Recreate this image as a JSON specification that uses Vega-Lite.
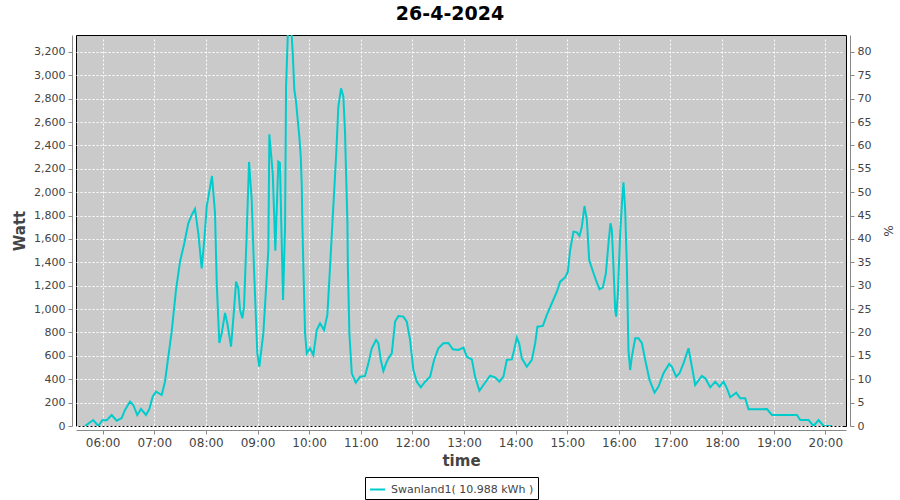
{
  "$schema": "https://vega.github.io/schema/vega-lite/v6.json",
  "width": 770,
  "height": 391,
  "autosize": {"type": "none"},
  "padding": {"left": 76, "top": 35, "right": 54, "bottom": 74},
  "background": "white",
  "title": {"text": "26-4-2024", "fontSize": 19, "fontWeight": "bold", "color": "black", "font": "DejaVu Sans", "anchor": "middle", "offset": 11, "dx": -11},
  "config": {
    "font": "DejaVu Sans",
    "view": {"fill": "#cacaca", "stroke": "black", "strokeWidth": 1},
    "axis": {
      "gridColor": "white", "gridDash": [2, 2], "gridWidth": 1, "gridOpacity": 1,
      "domainColor": "#888888", "tickColor": "#888888", "tickSize": 4,
      "labelFontSize": 11, "labelColor": "#444444",
      "titleFontSize": 15, "titleColor": "#444444", "titleFontWeight": "bold",
      "offset": 4, "labelPadding": 3
    },
    "legend": {
      "orient": "none", "legendX": 289, "legendY": 442,
      "symbolType": "stroke", "symbolSize": 225, "symbolStrokeWidth": 2,
      "labelFontSize": 11, "labelColor": "#444444",
      "strokeColor": "black", "fillColor": "white", "padding": 4, "labelOffset": 5
    }
  },
  "data": {"values": [
    {"t": "2024-04-26T05:39:25", "w": 0},
    {"t": "2024-04-26T05:49:00", "w": 51},
    {"t": "2024-04-26T05:55:00", "w": 0},
    {"t": "2024-04-26T05:59:30", "w": 50},
    {"t": "2024-04-26T06:04:40", "w": 50},
    {"t": "2024-04-26T06:10:28", "w": 94},
    {"t": "2024-04-26T06:16:17", "w": 45},
    {"t": "2024-04-26T06:22:06", "w": 68},
    {"t": "2024-04-26T06:25:56", "w": 137},
    {"t": "2024-04-26T06:31:45", "w": 208},
    {"t": "2024-04-26T06:35:35", "w": 180},
    {"t": "2024-04-26T06:40:14", "w": 94},
    {"t": "2024-04-26T06:44:32", "w": 145},
    {"t": "2024-04-26T06:50:21", "w": 94},
    {"t": "2024-04-26T06:54:11", "w": 145},
    {"t": "2024-04-26T06:58:08", "w": 251},
    {"t": "2024-04-26T07:02:00", "w": 294},
    {"t": "2024-04-26T07:08:36", "w": 265},
    {"t": "2024-04-26T07:12:26", "w": 379},
    {"t": "2024-04-26T07:16:17", "w": 593},
    {"t": "2024-04-26T07:20:14", "w": 807},
    {"t": "2024-04-26T07:25:14", "w": 1164},
    {"t": "2024-04-26T07:29:53", "w": 1406},
    {"t": "2024-04-26T07:34:53", "w": 1563},
    {"t": "2024-04-26T07:39:32", "w": 1734},
    {"t": "2024-04-26T07:43:29", "w": 1805},
    {"t": "2024-04-26T07:47:19", "w": 1857},
    {"t": "2024-04-26T07:51:09", "w": 1649},
    {"t": "2024-04-26T07:55:06", "w": 1349},
    {"t": "2024-04-26T07:58:08", "w": 1592},
    {"t": "2024-04-26T08:00:55", "w": 1877},
    {"t": "2024-04-26T08:07:05", "w": 2139},
    {"t": "2024-04-26T08:10:35", "w": 1822},
    {"t": "2024-04-26T08:12:33", "w": 1224},
    {"t": "2024-04-26T08:15:35", "w": 710},
    {"t": "2024-04-26T08:18:22", "w": 793},
    {"t": "2024-04-26T08:22:12", "w": 967},
    {"t": "2024-04-26T08:24:53", "w": 879},
    {"t": "2024-04-26T08:29:11", "w": 679},
    {"t": "2024-04-26T08:32:41", "w": 993},
    {"t": "2024-04-26T08:35:00", "w": 1235},
    {"t": "2024-04-26T08:37:41", "w": 1178},
    {"t": "2024-04-26T08:39:39", "w": 993},
    {"t": "2024-04-26T08:42:20", "w": 921},
    {"t": "2024-04-26T08:44:18", "w": 1021},
    {"t": "2024-04-26T08:47:26", "w": 1651},
    {"t": "2024-04-26T08:50:07", "w": 2259},
    {"t": "2024-04-26T08:53:15", "w": 1934},
    {"t": "2024-04-26T08:55:56", "w": 1335},
    {"t": "2024-04-26T08:59:46", "w": 622},
    {"t": "2024-04-26T09:02:06", "w": 507},
    {"t": "2024-04-26T09:06:45", "w": 793},
    {"t": "2024-04-26T09:12:34", "w": 1506},
    {"t": "2024-04-26T09:13:44", "w": 2496},
    {"t": "2024-04-26T09:17:41", "w": 2162},
    {"t": "2024-04-26T09:19:12", "w": 1834},
    {"t": "2024-04-26T09:20:42", "w": 1500},
    {"t": "2024-04-26T09:24:11", "w": 2262},
    {"t": "2024-04-26T09:26:00", "w": 2250},
    {"t": "2024-04-26T09:26:50", "w": 1990},
    {"t": "2024-04-26T09:29:39", "w": 1078},
    {"t": "2024-04-26T09:32:00", "w": 1705},
    {"t": "2024-04-26T09:33:09", "w": 2903},
    {"t": "2024-04-26T09:35:07", "w": 3331},
    {"t": "2024-04-26T09:36:30", "w": 3480},
    {"t": "2024-04-26T09:38:30", "w": 3480},
    {"t": "2024-04-26T09:39:46", "w": 3331},
    {"t": "2024-04-26T09:40:56", "w": 3190},
    {"t": "2024-04-26T09:42:47", "w": 2875},
    {"t": "2024-04-26T09:44:46", "w": 2775},
    {"t": "2024-04-26T09:46:44", "w": 2618},
    {"t": "2024-04-26T09:48:36", "w": 2475},
    {"t": "2024-04-26T09:50:14", "w": 2304},
    {"t": "2024-04-26T09:51:24", "w": 2062},
    {"t": "2024-04-26T09:52:06", "w": 1734},
    {"t": "2024-04-26T09:53:16", "w": 1363},
    {"t": "2024-04-26T09:55:14", "w": 793},
    {"t": "2024-04-26T09:57:12", "w": 622},
    {"t": "2024-04-26T10:01:02", "w": 665},
    {"t": "2024-04-26T10:04:52", "w": 607},
    {"t": "2024-04-26T10:08:49", "w": 821},
    {"t": "2024-04-26T10:12:40", "w": 879},
    {"t": "2024-04-26T10:17:19", "w": 821},
    {"t": "2024-04-26T10:21:09", "w": 950},
    {"t": "2024-04-26T10:24:18", "w": 1363},
    {"t": "2024-04-26T10:27:26", "w": 1791},
    {"t": "2024-04-26T10:31:17", "w": 2304},
    {"t": "2024-04-26T10:33:57", "w": 2732},
    {"t": "2024-04-26T10:37:05", "w": 2889},
    {"t": "2024-04-26T10:39:46", "w": 2818},
    {"t": "2024-04-26T10:41:44", "w": 2507},
    {"t": "2024-04-26T10:42:54", "w": 2162},
    {"t": "2024-04-26T10:44:25", "w": 1763},
    {"t": "2024-04-26T10:45:00", "w": 1363},
    {"t": "2024-04-26T10:46:45", "w": 793},
    {"t": "2024-04-26T10:49:33", "w": 451},
    {"t": "2024-04-26T10:54:11", "w": 371},
    {"t": "2024-04-26T10:59:11", "w": 422},
    {"t": "2024-04-26T11:05:00", "w": 428},
    {"t": "2024-04-26T11:08:50", "w": 536},
    {"t": "2024-04-26T11:12:47", "w": 665},
    {"t": "2024-04-26T11:17:46", "w": 736},
    {"t": "2024-04-26T11:20:27", "w": 708},
    {"t": "2024-04-26T11:23:15", "w": 565},
    {"t": "2024-04-26T11:26:17", "w": 471},
    {"t": "2024-04-26T11:29:26", "w": 536},
    {"t": "2024-04-26T11:32:06", "w": 579},
    {"t": "2024-04-26T11:36:03", "w": 622},
    {"t": "2024-04-26T11:39:53", "w": 893},
    {"t": "2024-04-26T11:43:43", "w": 941},
    {"t": "2024-04-26T11:49:32", "w": 936},
    {"t": "2024-04-26T11:53:29", "w": 893},
    {"t": "2024-04-26T11:57:19", "w": 736},
    {"t": "2024-04-26T12:01:09", "w": 479},
    {"t": "2024-04-26T12:05:06", "w": 379},
    {"t": "2024-04-26T12:09:45", "w": 331},
    {"t": "2024-04-26T12:14:45", "w": 379},
    {"t": "2024-04-26T12:20:34", "w": 422},
    {"t": "2024-04-26T12:25:13", "w": 565},
    {"t": "2024-04-26T12:30:13", "w": 665},
    {"t": "2024-04-26T12:36:02", "w": 708},
    {"t": "2024-04-26T12:41:51", "w": 710},
    {"t": "2024-04-26T12:46:58", "w": 656},
    {"t": "2024-04-26T12:53:29", "w": 650},
    {"t": "2024-04-26T12:59:18", "w": 670},
    {"t": "2024-04-26T13:03:15", "w": 593},
    {"t": "2024-04-26T13:09:04", "w": 570},
    {"t": "2024-04-26T13:12:54", "w": 422},
    {"t": "2024-04-26T13:17:54", "w": 302},
    {"t": "2024-04-26T13:22:33", "w": 351},
    {"t": "2024-04-26T13:30:20", "w": 430},
    {"t": "2024-04-26T13:36:09", "w": 416},
    {"t": "2024-04-26T13:41:09", "w": 379},
    {"t": "2024-04-26T13:45:48", "w": 422},
    {"t": "2024-04-26T13:49:45", "w": 565},
    {"t": "2024-04-26T13:55:34", "w": 570},
    {"t": "2024-04-26T13:58:15", "w": 650},
    {"t": "2024-04-26T14:01:24", "w": 756},
    {"t": "2024-04-26T14:04:05", "w": 708},
    {"t": "2024-04-26T14:07:13", "w": 579},
    {"t": "2024-04-26T14:13:02", "w": 507},
    {"t": "2024-04-26T14:18:51", "w": 565},
    {"t": "2024-04-26T14:22:41", "w": 708},
    {"t": "2024-04-26T14:25:21", "w": 850},
    {"t": "2024-04-26T14:31:38", "w": 856},
    {"t": "2024-04-26T14:36:17", "w": 950},
    {"t": "2024-04-26T14:42:06", "w": 1050},
    {"t": "2024-04-26T14:47:55", "w": 1149},
    {"t": "2024-04-26T14:51:45", "w": 1235},
    {"t": "2024-04-26T14:57:34", "w": 1272},
    {"t": "2024-04-26T15:00:42", "w": 1320},
    {"t": "2024-04-26T15:03:22", "w": 1506},
    {"t": "2024-04-26T15:07:13", "w": 1663},
    {"t": "2024-04-26T15:11:10", "w": 1657},
    {"t": "2024-04-26T15:14:12", "w": 1626},
    {"t": "2024-04-26T15:16:59", "w": 1705},
    {"t": "2024-04-26T15:20:01", "w": 1882},
    {"t": "2024-04-26T15:22:48", "w": 1763},
    {"t": "2024-04-26T15:25:29", "w": 1420},
    {"t": "2024-04-26T15:29:19", "w": 1335},
    {"t": "2024-04-26T15:33:17", "w": 1249},
    {"t": "2024-04-26T15:37:28", "w": 1170},
    {"t": "2024-04-26T15:41:24", "w": 1187},
    {"t": "2024-04-26T15:44:54", "w": 1306},
    {"t": "2024-04-26T15:47:55", "w": 1563},
    {"t": "2024-04-26T15:50:14", "w": 1734},
    {"t": "2024-04-26T15:51:52", "w": 1677},
    {"t": "2024-04-26T15:53:44", "w": 1363},
    {"t": "2024-04-26T15:55:43", "w": 993},
    {"t": "2024-04-26T15:56:53", "w": 936},
    {"t": "2024-04-26T15:58:51", "w": 1135},
    {"t": "2024-04-26T16:01:31", "w": 1649},
    {"t": "2024-04-26T16:03:50", "w": 1934},
    {"t": "2024-04-26T16:05:21", "w": 2085},
    {"t": "2024-04-26T16:07:19", "w": 1848},
    {"t": "2024-04-26T16:09:17", "w": 1363},
    {"t": "2024-04-26T16:11:08", "w": 650},
    {"t": "2024-04-26T16:13:07", "w": 479},
    {"t": "2024-04-26T16:15:05", "w": 593},
    {"t": "2024-04-26T16:19:00", "w": 750},
    {"t": "2024-04-26T16:22:50", "w": 750},
    {"t": "2024-04-26T16:26:47", "w": 708},
    {"t": "2024-04-26T16:30:38", "w": 565},
    {"t": "2024-04-26T16:35:38", "w": 394},
    {"t": "2024-04-26T16:41:26", "w": 285},
    {"t": "2024-04-26T16:46:04", "w": 337},
    {"t": "2024-04-26T16:51:53", "w": 451},
    {"t": "2024-04-26T16:58:30", "w": 531},
    {"t": "2024-04-26T17:01:38", "w": 507},
    {"t": "2024-04-26T17:06:38", "w": 422},
    {"t": "2024-04-26T17:10:28", "w": 451},
    {"t": "2024-04-26T17:15:07", "w": 536},
    {"t": "2024-04-26T17:20:56", "w": 665},
    {"t": "2024-04-26T17:24:53", "w": 507},
    {"t": "2024-04-26T17:28:43", "w": 351},
    {"t": "2024-04-26T17:36:30", "w": 428},
    {"t": "2024-04-26T17:40:22", "w": 408},
    {"t": "2024-04-26T17:46:11", "w": 331},
    {"t": "2024-04-26T17:52:00", "w": 379},
    {"t": "2024-04-26T17:57:00", "w": 337},
    {"t": "2024-04-26T18:01:38", "w": 379},
    {"t": "2024-04-26T18:05:35", "w": 322},
    {"t": "2024-04-26T18:09:25", "w": 246},
    {"t": "2024-04-26T18:16:24", "w": 285},
    {"t": "2024-04-26T18:21:03", "w": 237},
    {"t": "2024-04-26T18:26:52", "w": 237},
    {"t": "2024-04-26T18:30:42", "w": 143},
    {"t": "2024-04-26T18:36:31", "w": 143},
    {"t": "2024-04-26T18:44:19", "w": 143},
    {"t": "2024-04-26T18:52:06", "w": 145},
    {"t": "2024-04-26T18:57:55", "w": 94},
    {"t": "2024-04-26T19:03:44", "w": 94},
    {"t": "2024-04-26T19:27:00", "w": 94},
    {"t": "2024-04-26T19:30:50", "w": 51},
    {"t": "2024-04-26T19:40:29", "w": 51},
    {"t": "2024-04-26T19:46:17", "w": 0},
    {"t": "2024-04-26T19:52:06", "w": 51},
    {"t": "2024-04-26T19:57:55", "w": 0},
    {"t": "2024-04-26T20:07:40", "w": 0}
  ]},
  "encoding": {
    "x": {
      "field": "t", "type": "temporal", "title": "time",
      "scale": {"domain": [
        {"year": 2024, "month": 4, "date": 26, "hours": 5, "minutes": 29},
        {"year": 2024, "month": 4, "date": 26, "hours": 20, "minutes": 24}
      ]},
      "axis": {"format": "%H:%M", "tickCount": 15, "labelFontSize": 12, "titlePadding": 5}
    }
  },
  "layer": [
    {
      "mark": {"type": "line", "color": "#00cccc", "strokeWidth": 2, "clip": true},
      "encoding": {
        "y": {
          "field": "w", "type": "quantitative", "title": "Watt",
          "scale": {"domain": [0, 3345], "nice": false, "zero": true},
          "axis": {"values": [0, 200, 400, 600, 800, 1000, 1200, 1400, 1600, 1800, 2000, 2200, 2400, 2600, 2800, 3000, 3200], "format": ",d", "titlePadding": 6}
        },
        "color": {
          "datum": "Swanland1( 10.988 kWh )",
          "type": "nominal",
          "scale": {"range": ["#00cccc"]},
          "title": null
        }
      }
    },
    {
      "mark": {"type": "line", "strokeOpacity": 0, "clip": true},
      "encoding": {
        "y": {
          "field": "w", "type": "quantitative", "title": "%",
          "scale": {"domain": [0, 3345], "nice": false, "zero": true},
          "axis": {"orient": "right", "grid": false, "values": [0, 200, 400, 600, 800, 1000, 1200, 1400, 1600, 1800, 2000, 2200, 2400, 2600, 2800, 3000, 3200], "labelExpr": "format(datum.value / 40, 'd')", "titleFontSize": 12, "titleFontWeight": "normal", "titlePadding": 10}
        }
      }
    }
  ],
  "resolve": {"scale": {"y": "independent"}}
}
